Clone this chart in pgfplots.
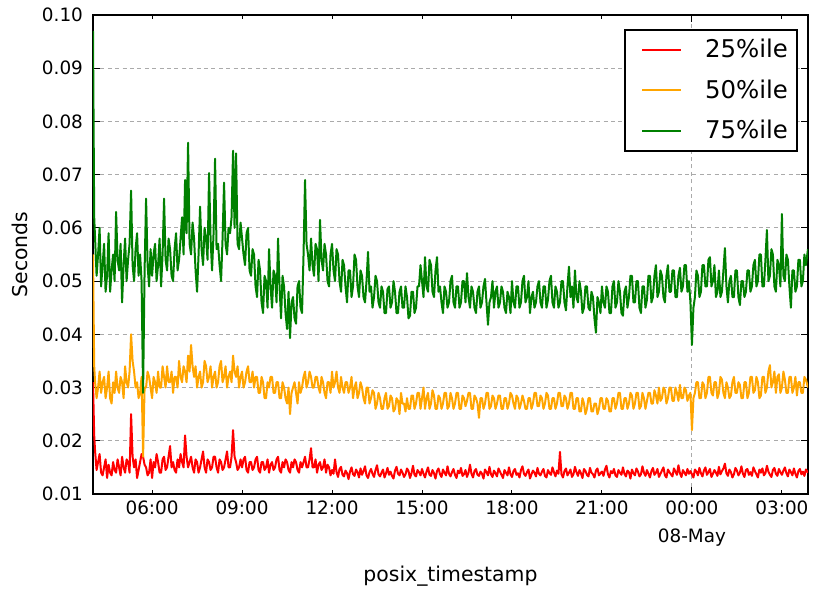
\documentclass[border=0pt]{standalone}
\usepackage{fontspec}
\setmainfont{DejaVu Sans}
\usepackage{pgfplots}
\usepackage{pgfplotstable}
\pgfplotsset{compat=1.18}
\definecolor{mplorange}{RGB}{255,165,0}
\definecolor{mplgreen}{RGB}{0,128,0}
\definecolor{mplred}{RGB}{255,0,0}
\definecolor{gridgray}{RGB}{170,170,170}
\pgfplotstableread{
t p25 p50 p75
4.03 0.031 0.055 0.097
4.07 0.021 0.034 0.062
4.1 0.018 0.031 0.058
4.15 0.0145 0.028 0.051
4.2 0.016 0.030 0.055
4.25 0.0175 0.033 0.060
4.3 0.014 0.029 0.049
4.35 0.0135 0.031 0.053
4.4 0.015 0.032 0.057
4.45 0.0165 0.028 0.048
4.5 0.013 0.030 0.051
4.55 0.0155 0.033 0.059
4.6 0.014 0.028 0.048
4.65 0.0135 0.027 0.052
4.7 0.016 0.031 0.055
4.75 0.0145 0.029 0.050
4.8 0.014 0.033 0.063
4.85 0.0165 0.030 0.054
4.9 0.015 0.029 0.052
4.95 0.0135 0.032 0.057
5.0 0.017 0.031 0.046
5.05 0.015 0.028 0.053
5.1 0.014 0.034 0.058
5.15 0.0165 0.031 0.050
5.2 0.016 0.030 0.054
5.25 0.014 0.033 0.057
5.3 0.025 0.040 0.067
5.35 0.017 0.035 0.053
5.4 0.015 0.033 0.050
5.45 0.0165 0.030 0.056
5.5 0.013 0.031 0.059
5.55 0.0145 0.028 0.051
5.6 0.016 0.029 0.055
5.65 0.0175 0.032 0.050
5.7 0.017 0.017 0.029
5.75 0.0155 0.030 0.052
5.8 0.015 0.030 0.0655
5.85 0.0135 0.033 0.053
5.9 0.014 0.032 0.049
5.95 0.0165 0.030 0.056
6.0 0.013 0.028 0.051
6.05 0.016 0.032 0.055
6.1 0.015 0.031 0.057
6.15 0.0175 0.029 0.050
6.2 0.016 0.033 0.053
6.25 0.014 0.030 0.058
6.3 0.014 0.030 0.049
6.35 0.0165 0.034 0.055
6.4 0.017 0.032 0.0655
6.45 0.0145 0.030 0.054
6.5 0.015 0.034 0.052
6.55 0.017 0.031 0.058
6.6 0.019 0.031 0.056
6.65 0.015 0.033 0.051
6.7 0.016 0.029 0.050
6.75 0.0145 0.032 0.056
6.8 0.014 0.032 0.059
6.85 0.0165 0.030 0.052
6.9 0.015 0.035 0.054
6.95 0.0175 0.032 0.058
7.0 0.016 0.031 0.062
7.05 0.015 0.034 0.055
7.1 0.021 0.033 0.069
7.15 0.017 0.031 0.059
7.2 0.015 0.036 0.076
7.25 0.016 0.033 0.057
7.3 0.017 0.038 0.055
7.35 0.015 0.034 0.061
7.4 0.014 0.032 0.058
7.45 0.0165 0.034 0.052
7.5 0.016 0.030 0.048
7.55 0.014 0.032 0.055
7.6 0.015 0.033 0.064
7.65 0.0165 0.030 0.056
7.7 0.018 0.031 0.053
7.75 0.015 0.035 0.060
7.8 0.014 0.034 0.058
7.85 0.0165 0.031 0.054
7.9 0.016 0.032 0.0703
7.95 0.0145 0.034 0.058
8.0 0.015 0.030 0.052
8.05 0.017 0.032 0.059
8.1 0.017 0.033 0.073
8.15 0.015 0.030 0.056
8.2 0.014 0.031 0.057
8.25 0.0165 0.034 0.053
8.3 0.016 0.035 0.050
8.35 0.0145 0.031 0.058
8.4 0.015 0.032 0.0685
8.45 0.0165 0.034 0.057
8.5 0.018 0.030 0.055
8.55 0.015 0.032 0.060
8.6 0.015 0.033 0.059
8.65 0.017 0.031 0.062
8.7 0.022 0.036 0.0745
8.75 0.017 0.033 0.060
8.8 0.016 0.032 0.074
8.85 0.0145 0.034 0.057
8.9 0.015 0.030 0.056
8.95 0.0165 0.032 0.061
9.0 0.015 0.033 0.058
9.05 0.0165 0.030 0.055
9.1 0.017 0.031 0.053
9.15 0.0145 0.033 0.059
9.2 0.014 0.034 0.060
9.25 0.016 0.031 0.052
9.3 0.016 0.031 0.051
9.35 0.0145 0.033 0.056
9.4 0.015 0.030 0.055
9.45 0.0165 0.032 0.049
9.5 0.017 0.032 0.047
9.55 0.0145 0.029 0.054
9.6 0.014 0.029 0.052
9.65 0.016 0.032 0.046
9.7 0.016 0.031 0.044
9.75 0.0145 0.028 0.051
9.8 0.015 0.028 0.050
9.85 0.0165 0.031 0.045
9.9 0.014 0.030 0.056
9.95 0.0155 0.032 0.049
10.0 0.016 0.032 0.045
10.05 0.0145 0.029 0.052
10.1 0.015 0.029 0.051
10.15 0.0165 0.031 0.046
10.2 0.017 0.031 0.058
10.25 0.0145 0.028 0.049
10.3 0.014 0.028 0.043
10.35 0.016 0.031 0.051
10.4 0.015 0.030 0.049
10.45 0.0165 0.028 0.044
10.5 0.016 0.027 0.041
10.55 0.0145 0.030 0.048
10.6 0.014 0.025 0.0393
10.65 0.016 0.029 0.046
10.7 0.015 0.030 0.047
10.75 0.0165 0.031 0.043
10.8 0.016 0.029 0.042
10.85 0.0145 0.027 0.049
10.9 0.014 0.031 0.050
10.95 0.016 0.029 0.045
11.0 0.015 0.030 0.044
11.05 0.016 0.032 0.055
11.1 0.017 0.033 0.069
11.15 0.015 0.030 0.057
11.2 0.015 0.031 0.055
11.25 0.0165 0.033 0.052
11.3 0.0186 0.032 0.058
11.35 0.015 0.030 0.053
11.4 0.015 0.030 0.051
11.45 0.0165 0.032 0.057
11.5 0.014 0.032 0.056
11.55 0.0155 0.030 0.050
11.6 0.016 0.029 0.0615
11.65 0.0145 0.032 0.054
11.7 0.015 0.031 0.052
11.75 0.0165 0.029 0.057
11.8 0.014 0.028 0.055
11.85 0.0155 0.031 0.050
11.9 0.015 0.031 0.049
11.95 0.0135 0.029 0.055
12.0 0.0145 0.033 0.057
12.05 0.0138 0.030 0.052
12.1 0.0165 0.031 0.050
12.15 0.0141 0.033 0.056
12.2 0.0132 0.030 0.055
12.25 0.0147 0.029 0.050
12.3 0.0151 0.032 0.048
12.35 0.0136 0.030 0.054
12.4 0.0133 0.029 0.053
12.45 0.0144 0.031 0.049
12.5 0.0139 0.031 0.046
12.55 0.0128 0.029 0.052
12.6 0.0142 0.030 0.052
12.65 0.0150 0.032 0.047
12.7 0.0137 0.028 0.049
12.75 0.0134 0.030 0.055
12.8 0.0146 0.031 0.054
12.85 0.0141 0.028 0.049
12.9 0.0131 0.029 0.047
12.95 0.0148 0.031 0.052
13.0 0.0136 0.030 0.051
13.05 0.0143 0.028 0.047
13.1 0.0152 0.027 0.046
13.15 0.0135 0.030 0.050
13.2 0.0130 0.030 0.0555
13.25 0.0141 0.027 0.048
13.3 0.0147 0.028 0.049
13.35 0.0138 0.0295 0.045
13.4 0.0132 0.029 0.047
13.45 0.0145 0.026 0.051
13.5 0.0154 0.027 0.050
13.55 0.0137 0.029 0.046
13.6 0.0133 0.028 0.045
13.65 0.0140 0.026 0.049
13.7 0.0146 0.026 0.048
13.75 0.0131 0.028 0.044
13.8 0.0139 0.029 0.044
13.85 0.0149 0.026 0.0485
13.9 0.0136 0.0265 0.049
13.95 0.0142 0.0285 0.045
14.0 0.0134 0.028 0.046
14.05 0.0129 0.0255 0.050
14.1 0.0144 0.026 0.048
14.15 0.0151 0.028 0.044
14.2 0.0138 0.0275 0.044
14.25 0.0135 0.025 0.048
14.3 0.0146 0.029 0.049
14.35 0.0140 0.027 0.045
14.4 0.0132 0.027 0.045
14.45 0.0137 0.0255 0.049
14.5 0.0148 0.028 0.047
14.55 0.0143 0.026 0.043
14.6 0.0130 0.026 0.0435
14.65 0.0139 0.0285 0.048
14.7 0.0153 0.0285 0.048
14.75 0.0136 0.026 0.044
14.8 0.0133 0.027 0.045
14.85 0.0145 0.029 0.049
14.9 0.0141 0.029 0.049
14.95 0.0135 0.026 0.053
15.0 0.0147 0.028 0.050
15.05 0.0138 0.030 0.047
15.1 0.0131 0.026 0.0545
15.15 0.0142 0.028 0.049
15.2 0.0150 0.029 0.048
15.25 0.0136 0.026 0.054
15.3 0.0134 0.027 0.053
15.35 0.0145 0.0295 0.048
15.4 0.0139 0.0285 0.047
15.45 0.0129 0.026 0.052
15.5 0.0143 0.026 0.0545
15.55 0.0148 0.0285 0.048
15.6 0.0137 0.028 0.049
15.65 0.0132 0.026 0.046
15.7 0.0146 0.027 0.044
15.75 0.0140 0.029 0.049
15.8 0.0135 0.029 0.048
15.85 0.0152 0.026 0.045
15.9 0.0138 0.0265 0.046
15.95 0.0133 0.029 0.050
16.0 0.0141 0.028 0.051
16.05 0.0147 0.026 0.046
16.1 0.0136 0.027 0.045
16.15 0.0130 0.029 0.049
16.2 0.0144 0.029 0.049
16.25 0.0139 0.026 0.045
16.3 0.0149 0.026 0.046
16.35 0.0134 0.0285 0.050
16.4 0.0137 0.028 0.050
16.45 0.0145 0.0265 0.046
16.5 0.0132 0.0275 0.0515
16.55 0.0140 0.029 0.047
16.6 0.0155 0.029 0.045
16.65 0.0138 0.026 0.049
16.7 0.0131 0.026 0.048
16.75 0.0143 0.0285 0.045
16.8 0.0147 0.028 0.044
16.85 0.0136 0.027 0.048
16.9 0.0134 0.0243 0.049
16.95 0.0142 0.028 0.045
17.0 0.0138 0.028 0.046
17.05 0.0129 0.026 0.049
17.1 0.0146 0.027 0.0504
17.15 0.0141 0.029 0.046
17.2 0.0135 0.029 0.0418
17.25 0.0151 0.026 0.046
17.3 0.0137 0.0265 0.047
17.35 0.0132 0.0285 0.050
17.4 0.0144 0.028 0.045
17.45 0.0139 0.026 0.048
17.5 0.0133 0.027 0.049
17.55 0.0148 0.0285 0.045
17.6 0.0142 0.0285 0.046
17.65 0.0136 0.026 0.049
17.7 0.0130 0.026 0.048
17.75 0.0145 0.028 0.045
17.8 0.0140 0.028 0.044
17.85 0.0135 0.026 0.048
17.9 0.0150 0.027 0.047
17.95 0.0137 0.029 0.044
18.0 0.0132 0.0285 0.050
18.05 0.0143 0.027 0.046
18.1 0.0147 0.026 0.045
18.15 0.0136 0.0285 0.049
18.2 0.0139 0.028 0.049
18.25 0.0131 0.026 0.045
18.3 0.0145 0.027 0.046
18.35 0.0152 0.0285 0.050
18.4 0.0138 0.0275 0.051
18.45 0.0134 0.026 0.046
18.5 0.0141 0.026 0.047
18.55 0.0146 0.028 0.050
18.6 0.0129 0.028 0.044
18.65 0.0137 0.026 0.047
18.7 0.0144 0.027 0.048
18.75 0.0140 0.029 0.045
18.8 0.0133 0.029 0.046
18.85 0.0149 0.0265 0.049
18.9 0.0138 0.0265 0.050
18.95 0.0135 0.0285 0.046
19.0 0.0142 0.028 0.045
19.05 0.0147 0.026 0.049
19.1 0.0134 0.027 0.049
19.15 0.0131 0.029 0.045
19.2 0.0145 0.0285 0.0465
19.25 0.0139 0.026 0.050
19.3 0.0136 0.026 0.051
19.35 0.0150 0.028 0.046
19.4 0.0141 0.028 0.045
19.45 0.0133 0.026 0.049
19.5 0.0144 0.027 0.048
19.55 0.0138 0.029 0.045
19.6 0.0179 0.029 0.046
19.65 0.0137 0.0265 0.050
19.7 0.0131 0.0265 0.050
19.75 0.0143 0.0285 0.046
19.8 0.0148 0.028 0.0445
19.85 0.0135 0.026 0.049
19.9 0.0140 0.027 0.0527
19.95 0.0146 0.029 0.047
20.0 0.0132 0.029 0.049
20.05 0.0137 0.026 0.045
20.1 0.0151 0.026 0.052
20.15 0.0141 0.028 0.047
20.2 0.0134 0.028 0.046
20.25 0.0145 0.0255 0.050
20.3 0.0139 0.0255 0.048
20.35 0.0130 0.028 0.044
20.4 0.0147 0.027 0.045
20.45 0.0143 0.025 0.049
20.5 0.0136 0.026 0.049
20.55 0.0133 0.028 0.045
20.6 0.0149 0.028 0.0445
20.65 0.0140 0.0255 0.048
20.7 0.0137 0.0255 0.047
20.75 0.0131 0.027 0.043
20.8 0.0144 0.027 0.0403
20.85 0.0148 0.025 0.047
20.9 0.0135 0.026 0.046
20.95 0.0139 0.028 0.044
21.0 0.0142 0.028 0.049
21.05 0.0134 0.026 0.046
21.1 0.0146 0.026 0.045
21.15 0.0153 0.028 0.049
21.2 0.0137 0.0275 0.048
21.25 0.0131 0.0255 0.044
21.3 0.0143 0.0255 0.044
21.35 0.0139 0.028 0.049
21.4 0.0147 0.028 0.050
21.45 0.0135 0.026 0.045
21.5 0.0132 0.027 0.046
21.55 0.0145 0.029 0.050
21.6 0.0140 0.029 0.048
21.65 0.0136 0.026 0.044
21.7 0.0150 0.026 0.0435
21.75 0.0138 0.028 0.048
21.8 0.0133 0.028 0.049
21.85 0.0144 0.026 0.045
21.9 0.0141 0.027 0.047
21.95 0.0129 0.029 0.051
22.0 0.0146 0.0285 0.051
22.05 0.0139 0.026 0.046
22.1 0.0135 0.027 0.046
22.15 0.0148 0.029 0.050
22.2 0.0142 0.029 0.050
22.25 0.0133 0.026 0.045
22.3 0.0137 0.0265 0.044
22.35 0.0152 0.029 0.049
22.4 0.0140 0.028 0.049
22.45 0.0134 0.026 0.045
22.5 0.0145 0.0275 0.0465
22.55 0.0138 0.029 0.051
22.6 0.0131 0.029 0.051
22.65 0.0143 0.027 0.046
22.7 0.0149 0.027 0.047
22.75 0.0136 0.0295 0.051
22.8 0.0140 0.0285 0.053
22.85 0.0147 0.027 0.047
22.9 0.0132 0.030 0.048
22.95 0.0138 0.0275 0.052
23.0 0.0144 0.028 0.051
23.05 0.0150 0.030 0.047
23.1 0.0135 0.0295 0.046
23.15 0.0131 0.027 0.051
23.2 0.0146 0.028 0.053
23.25 0.0141 0.030 0.048
23.3 0.0137 0.030 0.048
23.35 0.0133 0.0275 0.052
23.4 0.0148 0.0275 0.052
23.45 0.0142 0.030 0.047
23.5 0.0136 0.029 0.047
23.55 0.0154 0.0275 0.051
23.6 0.0139 0.0305 0.0525
23.65 0.0132 0.028 0.048
23.7 0.0145 0.028 0.049
23.75 0.0140 0.030 0.053
23.8 0.0135 0.0295 0.053
23.85 0.0147 0.0275 0.048
23.9 0.0138 0.0285 0.050
23.95 0.0143 0.029 0.046
24.0 0.0137 0.022 0.038
24.05 0.0131 0.028 0.045
24.1 0.0146 0.029 0.047
24.15 0.0142 0.031 0.052
24.2 0.0135 0.031 0.051
24.25 0.0149 0.028 0.047
24.3 0.0139 0.028 0.048
24.35 0.0133 0.031 0.053
24.4 0.0144 0.0305 0.053
24.45 0.0150 0.028 0.049
24.5 0.0136 0.029 0.049
24.55 0.0141 0.032 0.054
24.6 0.0147 0.032 0.0545
24.65 0.0132 0.029 0.049
24.7 0.0138 0.0285 0.050
24.75 0.0145 0.031 0.053
24.8 0.0140 0.031 0.047
24.85 0.0134 0.028 0.048
24.9 0.0151 0.029 0.052
24.95 0.0137 0.032 0.047
25.0 0.0143 0.0315 0.048
25.05 0.0148 0.029 0.052
25.1 0.0157 0.028 0.0562
25.15 0.0139 0.031 0.049
25.2 0.0134 0.030 0.046
25.25 0.0146 0.028 0.050
25.3 0.0141 0.0285 0.051
25.35 0.0131 0.031 0.047
25.4 0.0137 0.032 0.047
25.45 0.0149 0.029 0.052
25.5 0.0144 0.029 0.052
25.55 0.0135 0.031 0.047
25.6 0.0140 0.0305 0.0455
25.65 0.0152 0.028 0.050
25.7 0.0138 0.028 0.050
25.75 0.0132 0.031 0.047
25.8 0.0145 0.031 0.048
25.85 0.0147 0.028 0.052
25.9 0.0136 0.029 0.052
25.95 0.0141 0.032 0.048
26.0 0.0134 0.032 0.049
26.05 0.0150 0.029 0.053
26.1 0.0143 0.0295 0.054
26.15 0.0137 0.032 0.049
26.2 0.0131 0.031 0.050
26.25 0.0146 0.028 0.055
26.3 0.0140 0.0285 0.055
26.35 0.0148 0.032 0.049
26.4 0.0135 0.032 0.049
26.45 0.0139 0.029 0.054
26.5 0.0153 0.030 0.0596
26.55 0.0142 0.033 0.050
26.6 0.0136 0.0342 0.051
26.65 0.0132 0.030 0.056
26.7 0.0145 0.031 0.055
26.75 0.0149 0.033 0.049
26.8 0.0138 0.029 0.048
26.85 0.0134 0.032 0.054
26.9 0.0147 0.0325 0.053
26.95 0.0141 0.029 0.049
27.0 0.0136 0.030 0.0626
27.05 0.0144 0.033 0.051
27.1 0.0150 0.0315 0.050
27.15 0.0139 0.029 0.055
27.2 0.0133 0.029 0.054
27.25 0.0146 0.032 0.049
27.3 0.0141 0.032 0.045
27.35 0.0135 0.029 0.052
27.4 0.0148 0.030 0.052
27.45 0.0138 0.032 0.048
27.5 0.0131 0.0285 0.049
27.55 0.0143 0.031 0.054
27.6 0.0147 0.031 0.054
27.65 0.0137 0.029 0.049
27.7 0.0142 0.029 0.050
27.75 0.0134 0.032 0.055
27.8 0.0146 0.0315 0.053
27.87 0.0140 0.030 0.056
}\data
\begin{document}
\begin{tikzpicture}
\begin{axis}[name=ax,
  scale only axis, width=357.5pt, height=239.5pt,
  xmin=4.03, xmax=27.87, ymin=0.01, ymax=0.10,
  xtick={24}, xticklabels={{00:00\\08-May}},
  extra x ticks={6,9,12,15,18,21,27},
  extra x tick labels={06:00,09:00,12:00,15:00,18:00,21:00,03:00},
  extra x tick style={grid=none, major tick length=2pt},
  ytick={0.01,0.02,0.03,0.04,0.05,0.06,0.07,0.08,0.09,0.10},
  yticklabels={0.01,0.02,0.03,0.04,0.05,0.06,0.07,0.08,0.09,0.10},
  xmajorgrids, ymajorgrids,
  major grid style={gridgray, dash pattern=on 2pt off 1.7pt, line width=0.5pt},
  tick align=inside, major tick length=3.5pt,
  axis line style={line width=1pt},
  tick style={black, line width=0.5pt},
  xticklabel style={font=\fontsize{9.2}{14}\selectfont, align=center},
  yticklabel style={font=\fontsize{9.2}{11}\selectfont, xshift=-1.5pt},
  label style={font=\fontsize{10.2}{12}\selectfont},
  xlabel={posix\_timestamp}, ylabel={Seconds},
  xlabel style={at={(axis description cs:0.5,-0.171)}, anchor=center},
  ylabel style={at={(axis description cs:-0.102,0.5)}, anchor=center},
  legend style={at={(0.986,0.971)}, anchor=north east, draw=black, line width=1pt,
    font=\fontsize{12.2}{14}\selectfont, row sep=5.4pt, inner xsep=2.5pt, inner ysep=2.7pt,
    /tikz/every odd column/.append style={column sep=9.5pt}},
  legend cell align=left,
  legend image code/.code={\path (0pt,0pt); \draw[#1] (5.5pt,0pt) -- (25pt,0pt);},
  every axis plot/.append style={line width=1pt, line join=round},
]
\addplot[mplred, no markers] table[x=t, y=p25] {\data};
\addlegendentry{25\%ile}
\addplot[mplorange, no markers] table[x=t, y=p50] {\data};
\addlegendentry{50\%ile}
\addplot[mplgreen, no markers] table[x=t, y=p75] {\data};
\addlegendentry{75\%ile}
\end{axis}
\pgfresetboundingbox
\path[use as bounding box] ([shift={(-46.5pt,-48pt)}]ax.south west) rectangle ([shift={(2.5pt,7.5pt)}]ax.north east);
\end{tikzpicture}
\end{document}
